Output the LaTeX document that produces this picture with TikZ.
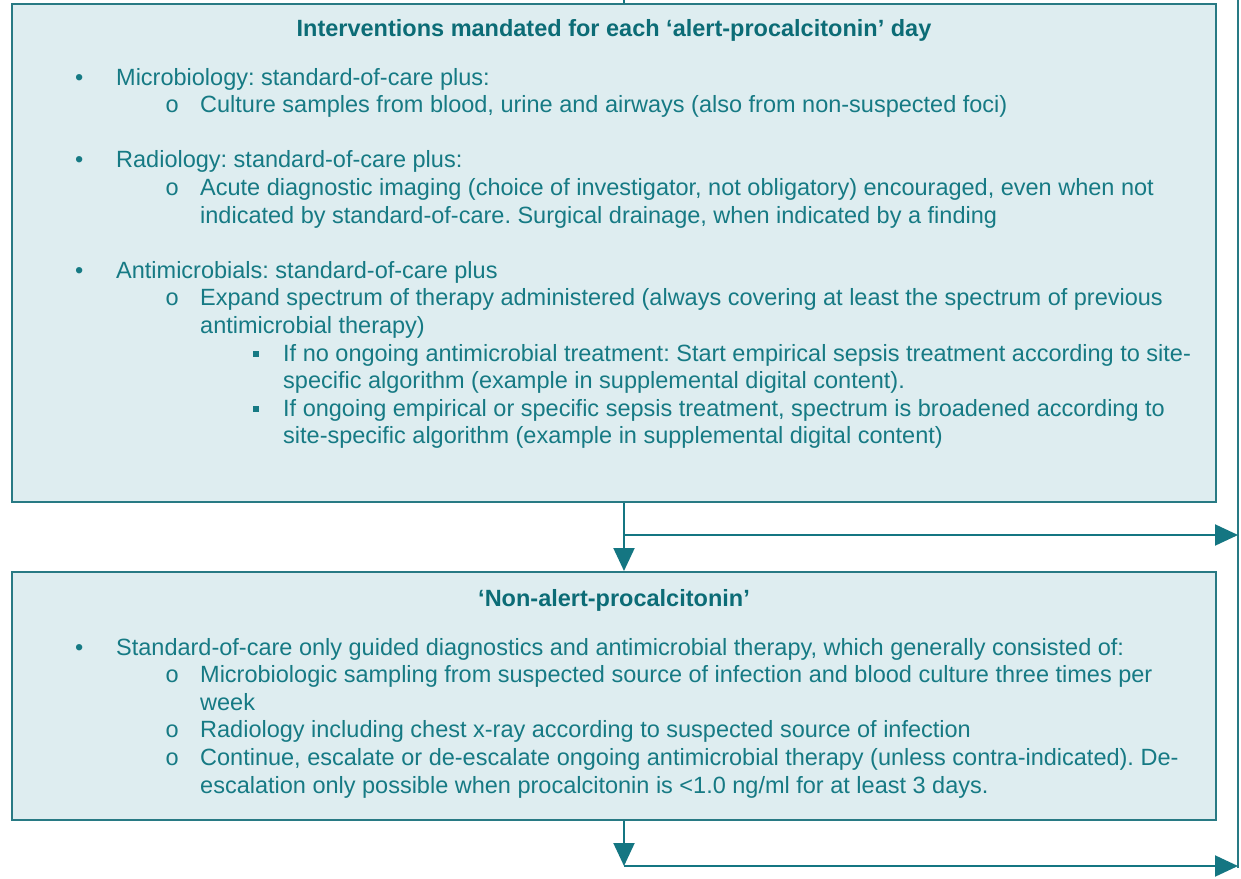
\documentclass[tikz,border=0pt]{standalone}
\usepackage{fontspec}
\setmainfont{Liberation Sans}
\newfontfamily\monofam{Liberation Mono}
\usetikzlibrary{arrows.meta}
\definecolor{tealtext}{RGB}{22,122,132}
\definecolor{tealtitle}{RGB}{12,108,118}
\definecolor{boxfill}{RGB}{222,237,240}
\definecolor{boxdraw}{RGB}{40,122,132}
\definecolor{arrowcol}{RGB}{20,118,130}
\newcommand\LA[1]{\hbox{\rlap{\hspace*{63pt}•}\hspace*{104pt}#1}}
\newcommand\LB[1]{\hbox{\rlap{\hspace*{153pt}{\monofam o}}\hspace*{188pt}#1}}
\newcommand\LBc[1]{\hbox{\hspace*{188pt}#1}}
\newcommand\LC[1]{\hbox{\rlap{\hspace*{241pt}\raisebox{4pt}{\rule{6pt}{6pt}}}\hspace*{271pt}#1}}
\newcommand\LCc[1]{\hbox{\hspace*{271pt}#1}}
\newcommand\Lgap{\hbox{}}
\begin{document}
\begin{tikzpicture}[x=1pt,y=-1pt,
  box/.style={draw=boxdraw,line width=2pt,fill=boxfill,inner sep=0pt,minimum width=1204pt},
  titletext/.style={font=\fontsize{23.5}{27.6}\selectfont\bfseries,text=tealtitle,inner sep=0pt,anchor=base},
  bodytext/.style={font=\fontsize{23.5}{27.6}\selectfont\frenchspacing,text=tealtext,inner sep=0pt,anchor=base west},
  flow/.style={draw=arrowcol,line width=2pt,-{Triangle[length=23pt,width=21pt]}},
  plain/.style={draw=arrowcol,line width=2pt},
  rail/.style={draw=boxdraw,line width=2.5pt}]
\useasboundingbox (0,0) rectangle (1241,878);

% boxes
\node[box,minimum height=498pt] (alert) at (614,253) {};
\node[box,minimum height=248pt] (nonalert) at (614,696) {};

% titles
\node[titletext] (alerttitle) at (614,36) {Interventions mandated for each ‘alert-procalcitonin’ day};
\node[titletext] (nonalerttitle) at (614,606) {‘Non-alert-procalcitonin’};

% body texts
\node[bodytext] (alertbody) at (12,85) {\begin{minipage}[t]{1200pt}\baselineskip=27.6pt
\LA{Microbiology: standard-of-care plus:}
\LB{Culture samples from blood, urine and airways (also from non-suspected foci)}
\Lgap
\LA{Radiology: standard-of-care plus:}
\LB{Acute diagnostic imaging (choice of investigator, not obligatory) encouraged, even when not}
\LBc{indicated by standard-of-care. Surgical drainage, when indicated by a finding}
\Lgap
\LA{Antimicrobials: standard-of-care plus}
\LB{Expand spectrum of therapy administered (always covering at least the spectrum of previous}
\LBc{antimicrobial therapy)}
\LC{If no ongoing antimicrobial treatment: Start empirical sepsis treatment according to site-}
\LCc{specific algorithm (example in supplemental digital content).}
\LC{If ongoing empirical or specific sepsis treatment, spectrum is broadened according to}
\LCc{site-specific algorithm (example in supplemental digital content)}
\end{minipage}};

\node[bodytext] (nonalertbody) at (12,655) {\begin{minipage}[t]{1200pt}\baselineskip=27.6pt
\LA{Standard-of-care only guided diagnostics and antimicrobial therapy, which generally consisted of:}
\LB{Microbiologic sampling from suspected source of infection and blood culture three times per}
\LBc{week}
\LB{Radiology including chest x-ray according to suspected source of infection}
\LB{Continue, escalate or de-escalate ongoing antimicrobial therapy (unless contra-indicated). De-}
\LBc{escalation only possible when procalcitonin is <1.0 ng/ml for at least 3 days.}
\end{minipage}};

% connector coordinates
\coordinate (topin) at (624,0);
\coordinate (railtop) at (1238,0);
\coordinate (railbot) at (1238,868);
\coordinate (split1) at (624,535);
\coordinate (split2) at (624,866);

% right rail
\draw[rail] (railtop) -- (railbot);

% connectors
\draw[plain] (topin) -- (topin |- alert.north);
\draw[flow] (split1 |- alert.south) -- (split1 |- nonalert.north);
\draw[flow] (split1) -- (split1 -| railtop);
\draw[flow] (split2 |- nonalert.south) -- (split2);
\draw[flow] (split2) -- (split2 -| railtop);
\end{tikzpicture}
\end{document}
